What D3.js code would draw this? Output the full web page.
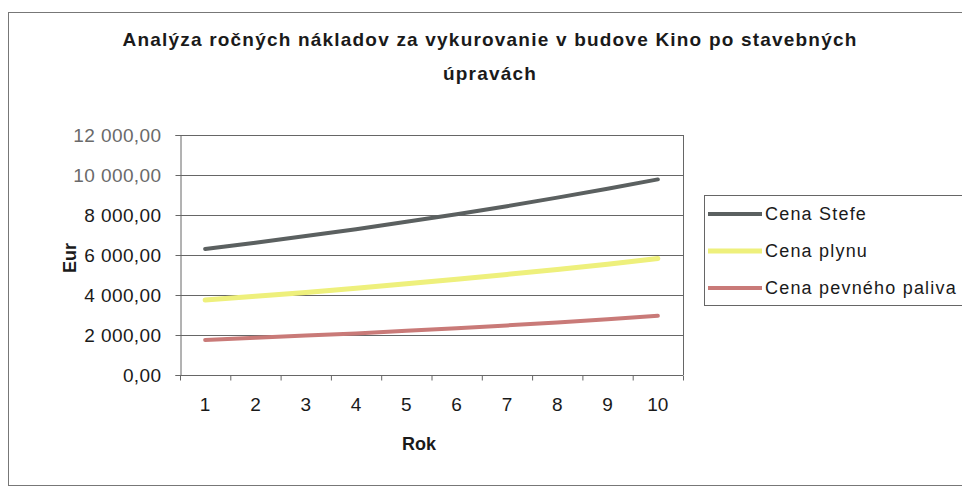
<!DOCTYPE html>
<html>
<head>
<meta charset="utf-8">
<script src="https://cdn.jsdelivr.net/npm/d3@7"></script>
<style>
  body { margin: 0; background: #fff; }
  svg { display: block; font-family: "Liberation Sans", Arial, sans-serif; }
</style>
</head>
<body>
<svg width="962" height="486"></svg>
<script>
// data
const years = [1, 2, 3, 4, 5, 6, 7, 8, 9, 10];
const cenaStefe = [6300, 6610, 6950, 7290, 7660, 8040, 8440, 8870, 9310, 9780];
const cenaPlynu = [3750, 3940, 4130, 4340, 4560, 4790, 5030, 5280, 5540, 5820];
const cenaPevneho = [1750, 1860, 1970, 2080, 2210, 2340, 2480, 2630, 2790, 2960];
const seriesNames = ["Cena Stefe", "Cena plynu", "Cena pevného paliva"];
const seriesColors = ["#5b6060", "#eef07c", "#c97a78"];
const yTicks = [0, 2000, 4000, 6000, 8000, 10000, 12000];

const series = [cenaStefe, cenaPlynu, cenaPevneho];

const svg = d3.select("svg");
const plotL = 180, plotR = 683, plotT = 135, plotB = 375;

// outer frame of the chart
svg.append("rect")
  .attr("x", 8.5).attr("y", 12.5)
  .attr("width", 1000).attr("height", 473)
  .attr("fill", "none").attr("stroke", "#777").attr("stroke-width", 1);

const x = d3.scaleBand().domain(years).range([plotL, plotR]);
const y = d3.scaleLinear().domain([0, 12000]).range([plotB, plotT]);

const fmt = v => d3.format(",.2f")(v).replace(/,/g, " ").replace(".", ",");

// gridlines
svg.append("g")
  .selectAll("line")
  .data(yTicks.filter(d => d > 0))
  .join("line")
  .attr("x1", plotL).attr("x2", plotR)
  .attr("y1", d => Math.round(y(d)) + 0.5).attr("y2", d => Math.round(y(d)) + 0.5)
  .attr("stroke", "#666");

// plot border on the right
svg.append("line")
  .attr("x1", plotR + 0.5).attr("x2", plotR + 0.5)
  .attr("y1", plotT).attr("y2", plotB)
  .attr("stroke", "#666");

// y axis
const yAxis = svg.append("g")
  .attr("transform", `translate(${plotL + 0.5},0)`)
  .call(d3.axisLeft(y).tickValues(yTicks).tickFormat(fmt).tickSize(5).tickPadding(14));
yAxis.selectAll("path, line").attr("stroke", "#666");
yAxis.selectAll("text")
  .attr("font-size", 19).attr("letter-spacing", 0.4)
  .attr("fill", d => d >= 10000 ? "#6a6a6a" : "#1a1a1a")
  .attr("font-family", "Liberation Sans, Arial, sans-serif");

// x axis with ticks between categories
const xAxis = svg.append("g")
  .attr("transform", `translate(0,${plotB + 0.5})`);
xAxis.append("line")
  .attr("x1", plotL).attr("x2", plotR)
  .attr("stroke", "#666");
xAxis.selectAll("line.tick")
  .data(years.concat([11]))
  .join("line")
  .attr("class", "tick")
  .attr("x1", (d, i) => plotL + i * x.step() + 0.5)
  .attr("x2", (d, i) => plotL + i * x.step() + 0.5)
  .attr("y1", 0).attr("y2", 5)
  .attr("stroke", "#666");
xAxis.selectAll("text")
  .data(years)
  .join("text")
  .attr("x", d => x(d) + x.bandwidth() / 2)
  .attr("y", 35)
  .attr("text-anchor", "middle")
  .attr("font-size", 19).attr("fill", "#1a1a1a")
  .text(d => d);

// lines
const line = d3.line()
  .x((d, i) => x(years[i]) + x.bandwidth() / 2)
  .y(d => y(d));

svg.append("g")
  .selectAll("path")
  .data(series)
  .join("path")
  .attr("d", line)
  .attr("fill", "none")
  .attr("stroke", (d, i) => seriesColors[i])
  .attr("stroke-width", (d, i) => i == 1 ? 5 : 4)
  .attr("stroke-linecap", "round");

// title
const title = svg.append("text")
  .attr("text-anchor", "middle")
  .attr("font-size", 19).attr("font-weight", "bold").attr("fill", "#1a1a1a")
  .attr("letter-spacing", 1.2);
title.append("tspan").attr("x", 490).attr("y", 46)
  .text("Analýza ročných nákladov za vykurovanie v budove Kino po stavebných");
title.append("tspan").attr("x", 490).attr("y", 80)
  .text("úpravách");

// axis titles
svg.append("text")
  .attr("transform", "translate(76,258) rotate(-90)")
  .attr("text-anchor", "middle")
  .attr("font-size", 18).attr("font-weight", "bold").attr("fill", "#1a1a1a")
  .text("Eur");
svg.append("text")
  .attr("x", 419).attr("y", 450)
  .attr("text-anchor", "middle")
  .attr("font-size", 18).attr("font-weight", "bold").attr("fill", "#1a1a1a")
  .text("Rok");

// legend
const legend = svg.append("g");
legend.append("rect")
  .attr("x", 704.5).attr("y", 195.5)
  .attr("width", 300).attr("height", 110)
  .attr("fill", "#fff").attr("stroke", "#666");
const item = legend.selectAll("g.item")
  .data(seriesNames)
  .join("g")
  .attr("class", "item")
  .attr("transform", (d, i) => `translate(0,${214 + i * 37})`);
item.append("line")
  .attr("x1", 708).attr("x2", 762)
  .attr("stroke", (d, i) => seriesColors[i])
  .attr("stroke-width", (d, i) => i == 1 ? 5 : 4);
item.append("text")
  .attr("x", 765).attr("y", 6)
  .attr("font-size", 18).attr("letter-spacing", 1.2).attr("fill", "#1a1a1a")
  .text(d => d);
</script>
</body>
</html>
